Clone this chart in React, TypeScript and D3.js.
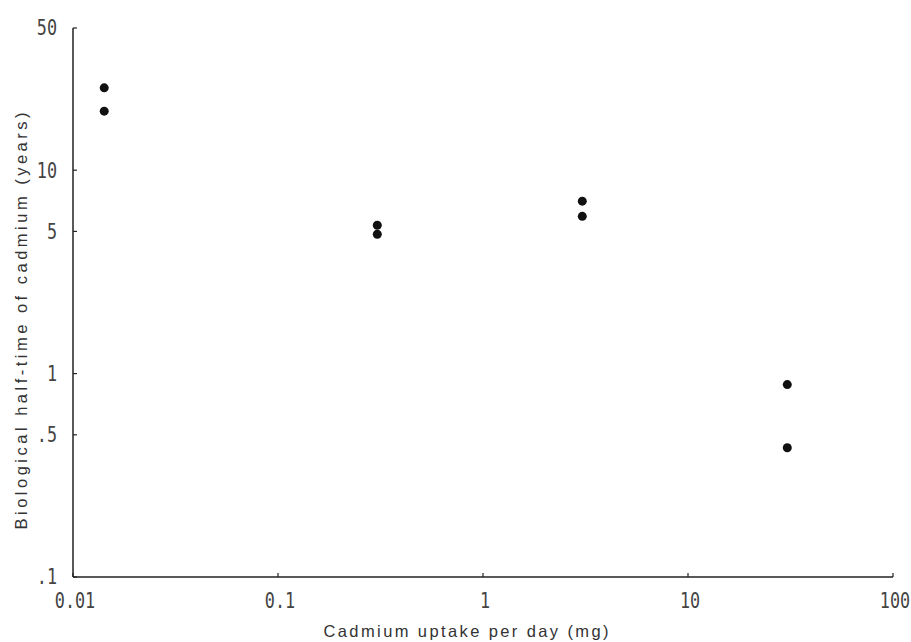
import React from "react";
import * as d3 from "d3";

// uptake (mg/day) vs biological half-time (years)
const uptake = [0.0142, 0.0142, 0.305, 0.305, 3.05, 3.05, 30.5, 30.5];
const halfTime = [25.4, 19.5, 5.36, 4.84, 7.04, 5.93, 0.883, 0.432];

const xTicks = [0.01, 0.1, 1, 10, 100];
const xTickLabels = ["0.01", "0.1", "1", "10", "100"];
const yTicks = [0.1, 0.5, 1, 5, 10, 50];
const yTickLabels = [".1", ".5", "1", "5", "10", "50"];

export default function App({
  width = 911,
  height = 642,
  marginTop = 28,
  marginRight = 18,
  marginBottom = 65,
  marginLeft = 73
}) {
  const xScale = d3.scaleLog()
    .domain([0.01, 100])
    .range([marginLeft, width - marginRight]);

  const yScale = d3.scaleLog()
    .domain([0.1, 50])
    .range([height - marginBottom, marginTop]);

  const tickFont = "'DejaVu Sans Mono', monospace";
  const titleFont = "'Liberation Sans', Arial, sans-serif";
  const ink = "#222";
  const y0 = height - marginBottom;
  const squeeze = 0.8; // tick labels are a narrow typewriter face

  return (
    <svg width={width} height={height} style={{ position: "absolute", left: 0, top: 0, background: "#fff" }}>
      {/* axes */}
      <line x1={marginLeft} x2={marginLeft} y1={marginTop} y2={y0} stroke={ink} strokeWidth="1.5" />
      <line x1={marginLeft} x2={width - marginRight} y1={y0} y2={y0} stroke={ink} strokeWidth="1.5" />

      {/* y ticks */}
      {yTicks.map((t, i) => (
        <g key={t} transform={`translate(${marginLeft}, ${yScale(t)})`}>
          <line x1={0} x2={4} stroke={ink} strokeWidth="1.2" />
          <text x={-16 / squeeze} dy="0.35em" textAnchor="end" fontFamily={tickFont} fontSize="21" fill="#444"
            transform={`scale(${squeeze},1)`}>
            {yTickLabels[i]}
          </text>
        </g>
      ))}

      {/* x ticks */}
      {xTicks.map((t, i) => (
        <g key={t} transform={`translate(${xScale(t)}, ${y0})`}>
          <line y1={0} y2={-4} stroke={ink} strokeWidth="1.2" />
          <text x={2 / squeeze} y={31} textAnchor="middle" fontFamily={tickFont} fontSize="21" fill="#444"
            transform={`scale(${squeeze},1)`}>
            {xTickLabels[i]}
          </text>
        </g>
      ))}

      {/* axis titles */}
      <text x={466} y={637} textAnchor="middle" fontFamily={titleFont} fontSize="16.5" fill="#333"
        textLength={285} lengthAdjust="spacing">
        Cadmium uptake per day (mg)
      </text>
      <text transform="translate(27, 321) rotate(-90)" textAnchor="middle" fontFamily={titleFont} fontSize="16.5" fill="#333"
        textLength={417} lengthAdjust="spacing">
        Biological half-time of cadmium (years)
      </text>

      {/* points */}
      <g fill="#111">
        {uptake.map((u, i) => (
          <circle key={i} cx={xScale(u)} cy={yScale(halfTime[i])} r="4.5" />
        ))}
      </g>
    </svg>
  );
}
